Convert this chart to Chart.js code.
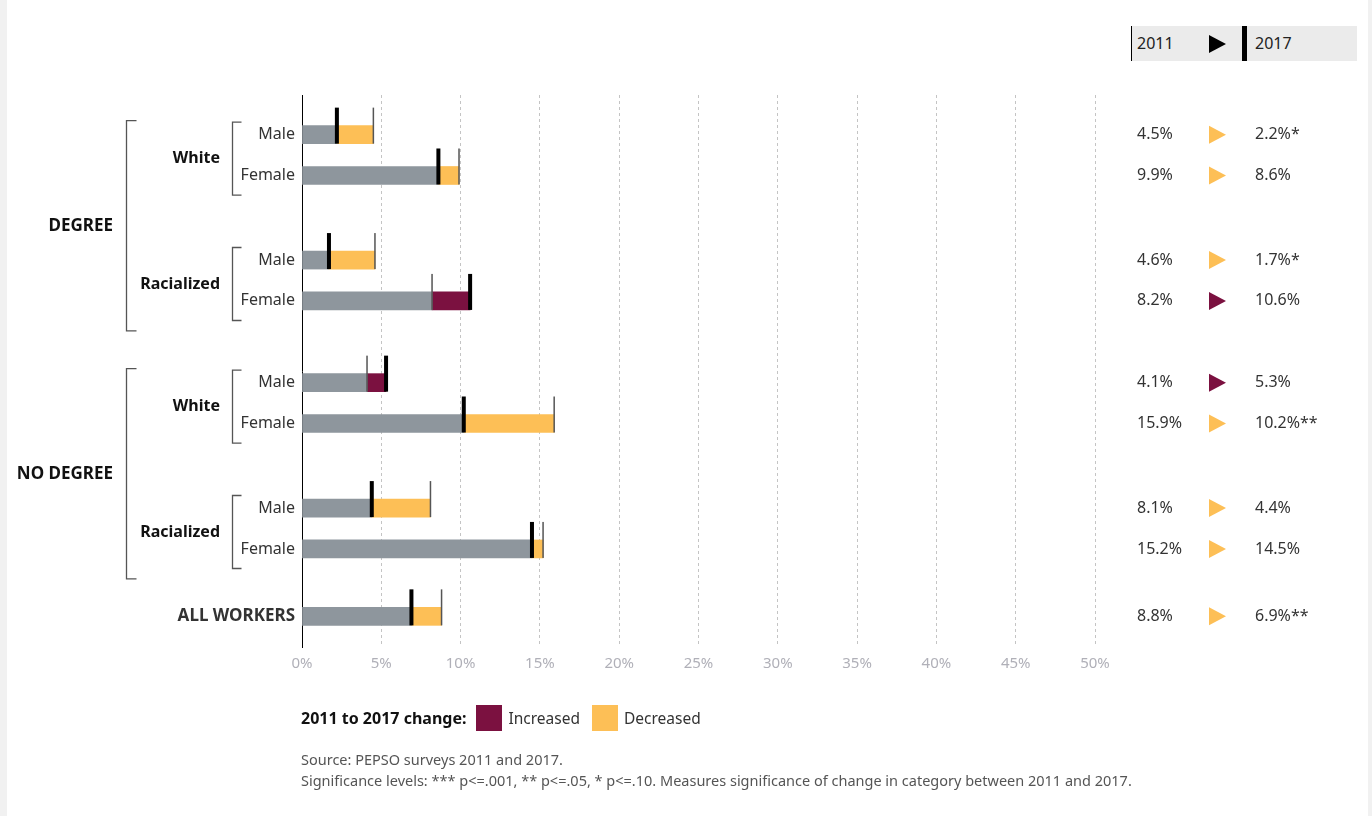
<!DOCTYPE html>
<html>
<head>
<meta charset="utf-8">
<script src="https://cdn.jsdelivr.net/npm/chart.js@4"></script>
<style>
  html, body { margin: 0; padding: 0; background: #f1f1f1; }
  body { width: 1372px; height: 816px; position: relative; overflow: hidden; font-family: "Noto Sans", sans-serif; color: #333; }
  .card { position: absolute; left: 7px; top: 0; width: 1361px; height: 816px; background: #fff; }
  canvas { position: absolute; left: 0; top: 0; }
  .key { position: absolute; left: 1131px; top: 26px; width: 225px; height: 35px; background: #ebebeb; border-left: 1px solid #000; }
  .key span { position: absolute; top: 6px; font-size: 16px; color: #222; }
  .key .tri { position: absolute; left: 77px; top: 9px; width: 0; height: 0; border-top: 9px solid transparent; border-bottom: 9px solid transparent; border-left: 17px solid #000; }
  .key .bar { position: absolute; left: 110px; top: 0; width: 5px; height: 35px; background: #000; }
  .legend { position: absolute; left: 301px; top: 705px; height: 26px; display: flex; align-items: center; font-size: 15.5px; color: #333; }
  .legend b { color: #111; margin-right: 10px; font-size: 16px; }
  .legend i { display: inline-block; width: 26px; height: 26px; margin-right: 6px; }
  .legend .lbl { margin-right: 12px; }
  .source { position: absolute; left: 301px; top: 749px; font-size: 14.5px; line-height: 21px; color: #555; }
</style>
</head>
<body>
<div class="card"></div>
<canvas id="chart" width="1372" height="816"></canvas>
<div class="key"><span style="left:5px">2011</span><div class="tri"></div><div class="bar"></div><span style="left:123px">2017</span></div>
<div class="legend"><b>2011 to 2017 change:</b><i style="background:#7b1140"></i><span class="lbl">Increased</span><i style="background:#fdbf56"></i><span class="lbl">Decreased</span></div>
<div class="source">Source: PEPSO surveys 2011 and 2017.<br>Significance levels: *** p&lt;=.001, ** p&lt;=.05, * p&lt;=.10. Measures significance of change in category between 2011 and 2017.</div>
<script>
// Row data (top to bottom)
const rowLabels = ["Male", "Female", "Male", "Female", "Male", "Female", "Male", "Female", "ALL WORKERS"];
const rowEducation = ["DEGREE", "DEGREE", "DEGREE", "DEGREE", "NO DEGREE", "NO DEGREE", "NO DEGREE", "NO DEGREE", ""];
const rowRace = ["White", "White", "Racialized", "Racialized", "White", "White", "Racialized", "Racialized", ""];
const rate2011 = [4.5, 9.9, 4.6, 8.2, 4.1, 15.9, 8.1, 15.2, 8.8];
const rate2017 = [2.2, 8.6, 1.7, 10.6, 5.3, 10.2, 4.4, 14.5, 6.9];
const sig2017 = ["*", "", "*", "", "", "**", "", "", "**"];

const GRAY = "#8e969d";
const UP = "#7b1140";   // increased
const DOWN = "#fdbf56"; // decreased

// vertical slot of each row: tight within a pair, wider gap between groups
const rowPos = [];
let p = 0;
rowLabels.forEach((_, i) => {
  if (i > 0) {
    if (rowEducation[i] === "") p += 1.65;
    else if (rowEducation[i] !== rowEducation[i - 1]) p += 2.0;
    else if (rowRace[i] !== rowRace[i - 1]) p += 2.07;
    else p += 1;
  }
  rowPos.push(p);
});

const baseData = rowPos.map((y, i) => ({ x: [0, Math.min(rate2011[i], rate2017[i])], y: y }));
const changeData = rowPos.map((y, i) => ({ x: [Math.min(rate2011[i], rate2017[i]), Math.max(rate2011[i], rate2017[i])], y: y }));
const changeColors = rowPos.map((_, i) => rate2017[i] > rate2011[i] ? UP : DOWN);

// markers, brackets and right-hand values
const extras = {
  id: "extras",
  afterDatasetsDraw(chart) {
    const ctx = chart.ctx;
    const xs = chart.scales.x, ys = chart.scales.y;
    ctx.save();
    rowPos.forEach((pos, i) => {
      const yc = ys.getPixelForValue(pos);
      const x11 = xs.getPixelForValue(rate2011[i]);
      const x17 = xs.getPixelForValue(rate2017[i]);
      ctx.fillStyle = "#555";
      ctx.fillRect(x11 - 0.75, yc - 27, 1.5, 36);
      ctx.fillStyle = "#000";
      ctx.fillRect(x17 - 2, yc - 27, 4, 36);
    });
    ctx.restore();
  },
  afterDraw(chart) {
    const ctx = chart.ctx;
    const ys = chart.scales.y;
    ctx.save();
    ctx.strokeStyle = "#555";
    ctx.lineWidth = 1.3;
    ctx.textBaseline = "middle";

    // inner brackets (race), outer brackets (education)
    const groupRuns = (keyFn) => {
      const runs = [];
      rowLabels.forEach((_, i) => {
        const k = keyFn(i);
        if (!k) return;
        const last = runs[runs.length - 1];
        if (last && last.key === k) last.end = i;
        else runs.push({ key: k, start: i, end: i });
      });
      return runs;
    };
    const bracket = (x, top, bottom, tick) => {
      ctx.beginPath();
      ctx.moveTo(x + tick, top);
      ctx.lineTo(x, top);
      ctx.lineTo(x, bottom);
      ctx.lineTo(x + tick, bottom);
      ctx.stroke();
    };
    ctx.fillStyle = "#111";
    ctx.textAlign = "right";
    ctx.font = "bold 16px 'Noto Sans'";
    groupRuns(i => rowRace[i] ? rowEducation[i] + "|" + rowRace[i] : "").forEach(r => {
      const mid = (ys.getPixelForValue(rowPos[r.start]) + ys.getPixelForValue(rowPos[r.end])) / 2;
      const top = mid - 33, bottom = mid + 40;
      bracket(232.5, top, bottom, 9);
      ctx.fillText(rowRace[r.start], 220, (top + bottom) / 2);
    });
    ctx.font = "bold 17px 'Noto Sans'";
    groupRuns(i => rowEducation[i]).forEach(r => {
      const top = ys.getPixelForValue(rowPos[r.start]) - 14;
      const bottom = ys.getPixelForValue(rowPos[r.end]) + 30;
      bracket(126.5, top, bottom, 10);
      ctx.fillText(rowEducation[r.start], 113, (top + bottom) / 2);
    });

    // right-hand value column
    ctx.font = "16px 'Noto Sans'";
    ctx.textAlign = "left";
    rowPos.forEach((pos, i) => {
      const yc = ys.getPixelForValue(pos);
      ctx.fillStyle = "#333";
      ctx.fillText(rate2011[i].toFixed(1) + "%", 1137, yc);
      ctx.fillText(rate2017[i].toFixed(1) + "%" + sig2017[i], 1255, yc);
      ctx.fillStyle = changeColors[i];
      ctx.beginPath();
      ctx.moveTo(1209, yc - 9);
      ctx.lineTo(1226, yc);
      ctx.lineTo(1209, yc + 9);
      ctx.closePath();
      ctx.fill();
    });
    ctx.restore();
  }
};

new Chart(document.getElementById("chart"), {
  type: "bar",
  data: {
    datasets: [
      { label: "Base", data: baseData, backgroundColor: GRAY, grouped: false, barThickness: 18, borderSkipped: false },
      { label: "Change", data: changeData, backgroundColor: changeColors, grouped: false, barThickness: 18, borderSkipped: false }
    ]
  },
  options: {
    indexAxis: "y",
    responsive: false,
    animation: false,
    layout: { padding: { top: 95, right: 277, bottom: 139, left: 0 } },
    plugins: { legend: { display: false }, tooltip: { enabled: false } },
    scales: {
      x: {
        type: "linear",
        min: 0,
        max: 50,
        afterFit(scale) { scale.height = 30; },
        ticks: {
          stepSize: 5,
          padding: 8,
          color: "#b0b0b8",
          font: { family: "Noto Sans", size: 15 },
          callback: v => v + "%"
        },
        grid: {
          drawTicks: false,
          color: ctx => ctx.tick && ctx.tick.value === 0 ? "rgba(0,0,0,0)" : "#c4c4c4",
          lineWidth: 1
        },
        border: { display: false, dash: [3, 3] }
      },
      y: {
        type: "linear",
        reverse: true,
        offset: false,
        min: -0.97,
        max: 12.54,
        afterFit(scale) { scale.width = 302; },
        afterBuildTicks(scale) { scale.ticks = rowPos.map(v => ({ value: v })); },
        ticks: {
          padding: 7,
          color: "#333",
          font: ctx => ctx.index === rowLabels.length - 1
            ? { family: "Noto Sans", size: 17, weight: "bold" }
            : { family: "Noto Sans", size: 16 },
          callback: (v, i) => rowLabels[i]
        },
        grid: { display: false, drawTicks: false },
        border: { display: true, color: "#000", width: 1 }
      }
    }
  },
  plugins: [extras]
});
</script>
</body>
</html>
